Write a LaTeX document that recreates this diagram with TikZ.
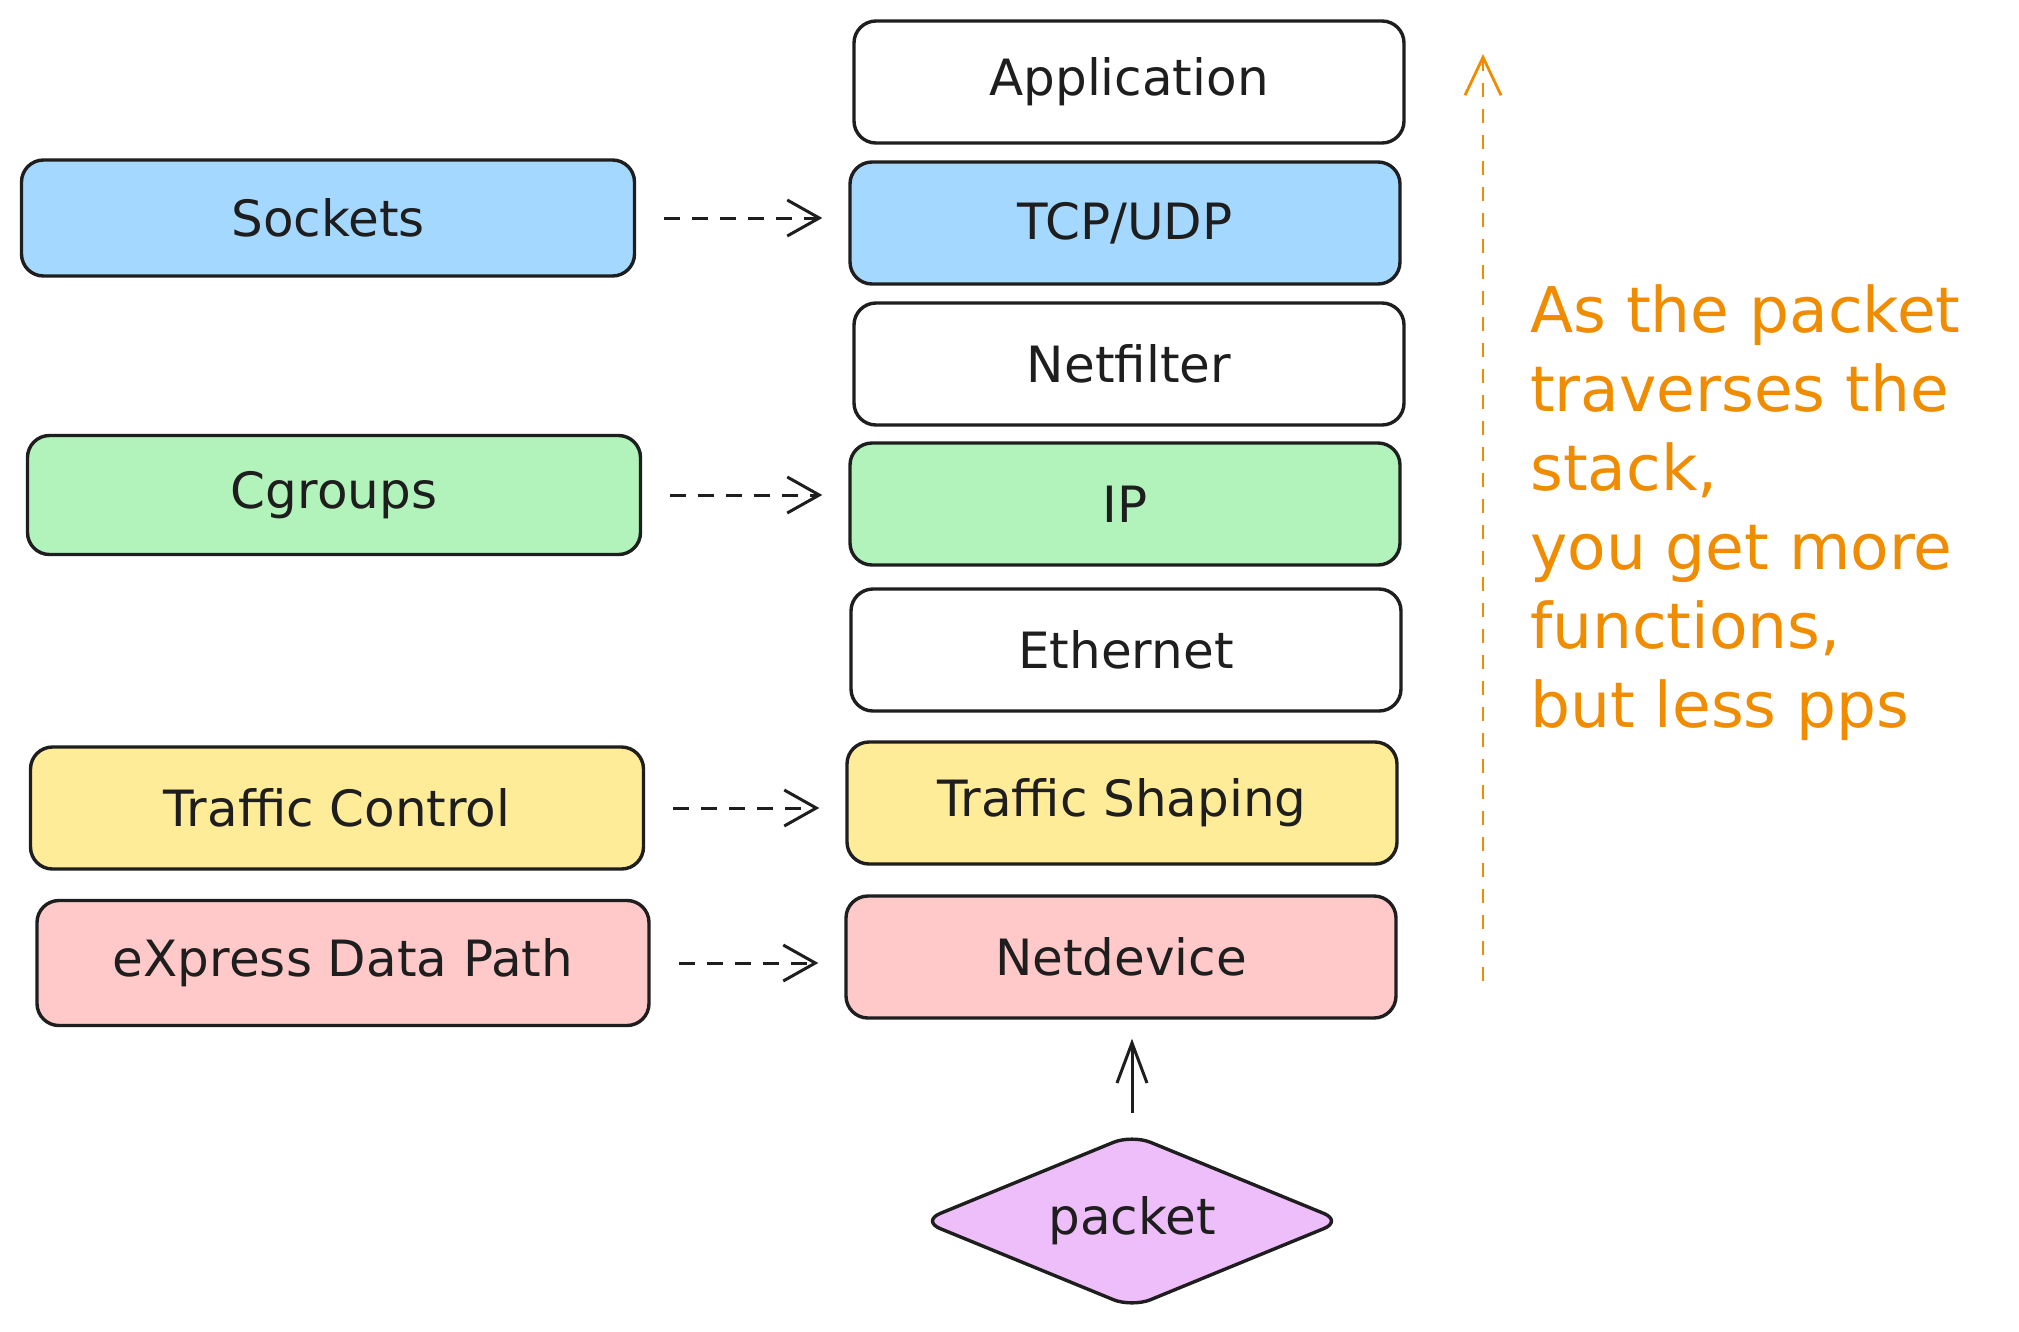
\documentclass[tikz,border=0pt]{standalone}
\usepackage{fontspec}
\setmainfont{DejaVu Sans}
\usetikzlibrary{arrows.meta,shapes.geometric}
\definecolor{ink}{HTML}{1E1E1E}
\definecolor{cblue}{HTML}{A5D8FF}
\definecolor{cgreen}{HTML}{B2F2BB}
\definecolor{cyellow}{HTML}{FFEC99}
\definecolor{cred}{HTML}{FFC9C9}
\definecolor{cpurple}{HTML}{EEBEFA}
\definecolor{corange}{HTML}{F08C00}
\begin{document}
\begin{tikzpicture}[x=1pt,y=-1pt,
  boxtext/.style={font=\fontsize{50}{60}\selectfont, text=ink},
  layerbox/.style={boxtext, draw=ink, line width=3.4pt, rounded corners=22pt,
    minimum width=550pt, minimum height=122pt, inner sep=0pt},
  sidebox/.style={boxtext, draw=ink, line width=3.4pt, rounded corners=22pt,
    minimum width=613pt, minimum height=119pt, inner sep=0pt},
  dashlink/.style={draw=ink, line width=3pt, dash pattern=on 16pt off 12pt,
    shorten <=28pt, shorten >=26pt,
    -{Straight Barb[length=32pt,width=36pt,line width=3pt]}},
  uplink/.style={draw=ink, line width=3pt, shorten <=19pt, shorten >=19pt,
    -{Straight Barb[length=40pt,width=30pt,line width=3pt]}},
  notearrow/.style={draw=corange, line width=2.8pt, dash pattern=on 14pt off 12pt,
    -{Straight Barb[length=38pt,width=36pt,line width=2.8pt]}}
]
\fill[white] (0,0) rectangle (2019,1331);
\useasboundingbox (0,0) rectangle (2019,1331);

% right column: network stack
\node[layerbox] (app) at (1129,82) {Application};
\node[layerbox, fill=cblue] (tcp) at (1125,223) {TCP/UDP};
\node[layerbox] (nf) at (1129,364) {Netfilter};
\node[layerbox, fill=cgreen] (ip) at (1125,504) {IP};
\node[layerbox] (eth) at (1126,650) {Ethernet};
\node[layerbox, fill=cyellow] (ts) at (1122,803) {Traffic Shaping};
\node[layerbox, fill=cred] (nd) at (1121,957) {Netdevice};

% left column
\node[sidebox, fill=cblue, minimum height=116pt] (sock) at (328,218) {Sockets};
\node[sidebox, fill=cgreen] (cg) at (334,495) {Cgroups};
\node[sidebox, fill=cyellow, minimum height=122pt] (tc) at (337,808) {Traffic Control};
\node[sidebox, fill=cred, minimum width=612pt, minimum height=125pt] (xdp) at (343,963) {eXpress Data Path};

% packet
\node[boxtext, shape=diamond, draw=ink, fill=cpurple, line width=3.4pt,
  rounded corners=20pt, aspect=2.42, minimum width=422pt, minimum height=174pt, inner sep=0pt]
  (pkt) at (1132,1221) {packet};

% connectors
\draw[dashlink] (sock.east) -- (sock.east -| tcp.west);
\draw[dashlink] (cg.east) -- (cg.east -| ip.west);
\draw[dashlink] (tc.east) -- (tc.east -| ts.west);
\draw[dashlink] (xdp.east) -- (xdp.east -| nd.west);
\draw[uplink] (pkt.north) -- (pkt.north |- nd.south);

% annotation
\coordinate (nbot) at (1483,981);
\coordinate (ntop) at (1483,54);
\draw[notearrow] (nbot) -- (ntop);
\node[anchor=north west, inner sep=0pt, align=left, text=corange,
  font=\fontsize{63}{79}\selectfont] (note) at (1530,284)
  {As the packet\\traverses the\\stack,\\you get more\\functions,\\but less pps};
\end{tikzpicture}
\end{document}
